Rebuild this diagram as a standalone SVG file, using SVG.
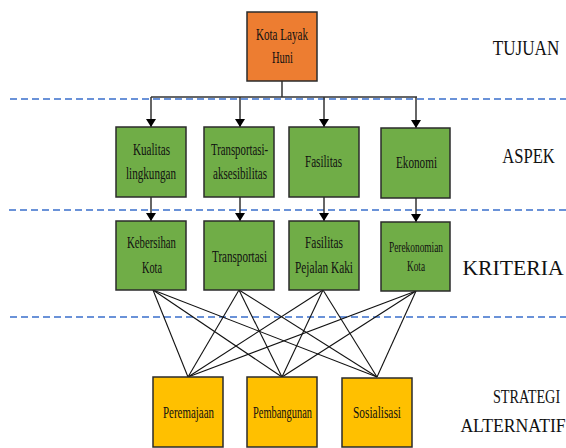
<svg xmlns="http://www.w3.org/2000/svg" width="566" height="448" viewBox="0 0 566 448">
<style>
.box{stroke:#2b2b2b;stroke-width:1.5}
.o{fill:#ED7D31}.g{fill:#70AD47}.y{fill:#FFC000}
text{font-family:'Liberation Serif','Times New Roman',Tinos,'DejaVu Serif',serif;fill:#111;text-anchor:middle}
.t{font-size:17px}
.s{font-size:15px}
.lv{font-size:22px}
.lv2{font-size:19px}
.dash{stroke:#6A92D8;stroke-width:2;stroke-dasharray:7,4;fill:none}
.arr{stroke:#333;stroke-width:1.5;fill:none;marker-end:url(#ah)}
.ln{stroke:#111;stroke-width:1.1;fill:none}
</style>
<defs>
<marker id="ah" markerWidth="8" markerHeight="10" refX="8" refY="5" orient="auto" markerUnits="userSpaceOnUse">
<path d="M0,0 L8,5 L0,10 z" fill="#000"/>
</marker>
</defs>
<rect width="566" height="448" fill="#fff"/>
<g id="dividers">
<line class="dash" x1="10" y1="99" x2="566" y2="99"/>
<line class="dash" x1="9" y1="210" x2="566" y2="210"/>
<line class="dash" x1="10" y1="317" x2="566" y2="317"/>
</g>
<g id="level-labels">
<text class="lv" transform="translate(526,55) scale(0.777,1)">TUJUAN</text>
<text class="lv" transform="translate(528.5,163) scale(0.755,1)">ASPEK</text>
<text class="lv" transform="translate(513,275) scale(0.985,1)">KRITERIA</text>
<text class="lv lv2" transform="translate(526.5,403) scale(0.75,1)">STRATEGI</text>
<text class="lv lv2" transform="translate(513,432) scale(0.93,1)">ALTERNATIF</text>
</g>
<g id="connectors">
<line x1="282" y1="81" x2="282" y2="97" style="stroke:#333;stroke-width:1.5"/>
<line x1="151" y1="97" x2="417" y2="97" style="stroke:#333;stroke-width:1.5"/>
<line class="arr" x1="151" y1="97" x2="151" y2="127"/>
<line class="arr" x1="240" y1="97" x2="240" y2="127"/>
<line class="arr" x1="324" y1="97" x2="324" y2="127"/>
<line class="arr" x1="416" y1="97" x2="416" y2="128"/>
<line class="arr" x1="151" y1="197" x2="151" y2="221"/>
<line class="arr" x1="240" y1="197" x2="240" y2="221"/>
<line class="arr" x1="324" y1="197" x2="324" y2="221"/>
<line class="arr" x1="416" y1="198" x2="416" y2="222"/>
<g class="ln">
<line x1="153" y1="290" x2="188" y2="377"/><line x1="153" y1="290" x2="282" y2="377"/><line x1="153" y1="290" x2="377" y2="377"/>
<line x1="239" y1="290" x2="188" y2="377"/><line x1="239" y1="290" x2="282" y2="377"/><line x1="239" y1="290" x2="377" y2="377"/>
<line x1="323" y1="290" x2="188" y2="377"/><line x1="323" y1="290" x2="282" y2="377"/><line x1="323" y1="290" x2="377" y2="377"/>
<line x1="416" y1="291" x2="188" y2="377"/><line x1="416" y1="291" x2="282" y2="377"/><line x1="416" y1="291" x2="377" y2="377"/>
</g>
</g>
<g id="kota-layak-huni">
<rect class="box o" x="247" y="12" width="70" height="69"/>
<text class="t" x="282" y="40" textLength="52" lengthAdjust="spacingAndGlyphs">Kota Layak</text>
<text class="t" x="282.5" y="63" textLength="21" lengthAdjust="spacingAndGlyphs">Huni</text>
</g>
<g id="kualitas-lingkungan">
<rect class="box g" x="116" y="127" width="70" height="70"/>
<text class="t" x="151.5" y="155" textLength="37" lengthAdjust="spacingAndGlyphs">Kualitas</text>
<text class="t" x="151" y="179" textLength="50" lengthAdjust="spacingAndGlyphs">lingkungan</text>
</g>
<g id="transportasi-aksesibilitas">
<rect class="box g" x="204" y="127" width="70" height="70"/>
<text class="t" x="239.5" y="155" textLength="57" lengthAdjust="spacingAndGlyphs">Transportasi-</text>
<text class="t" x="240" y="179" textLength="54" lengthAdjust="spacingAndGlyphs">aksesibilitas</text>
</g>
<g id="fasilitas">
<rect class="box g" x="289" y="127" width="70" height="70"/>
<text class="t" x="323.5" y="167" textLength="37" lengthAdjust="spacingAndGlyphs">Fasilitas</text>
</g>
<g id="ekonomi">
<rect class="box g" x="381" y="128" width="69" height="70"/>
<text class="t" x="416.5" y="168" textLength="41" lengthAdjust="spacingAndGlyphs">Ekonomi</text>
</g>
<g id="kebersihan-kota">
<rect class="box g" x="116" y="221" width="70" height="69"/>
<text class="t" x="151.5" y="248" textLength="49" lengthAdjust="spacingAndGlyphs">Kebersihan</text>
<text class="t" x="152" y="273" textLength="20" lengthAdjust="spacingAndGlyphs">Kota</text>
</g>
<g id="transportasi">
<rect class="box g" x="204" y="221" width="70" height="69"/>
<text class="t" x="239.5" y="262" textLength="55" lengthAdjust="spacingAndGlyphs">Transportasi</text>
</g>
<g id="fasilitas-pejalan-kaki">
<rect class="box g" x="289" y="221" width="70" height="69"/>
<text class="t" x="324" y="248" textLength="38" lengthAdjust="spacingAndGlyphs">Fasilitas</text>
<text class="t" x="324" y="273" textLength="58" lengthAdjust="spacingAndGlyphs">Pejalan Kaki</text>
</g>
<g id="perekonomian-kota">
<rect class="box g" x="381" y="222" width="69" height="69"/>
<text class="t s" x="416" y="252" textLength="54" lengthAdjust="spacingAndGlyphs">Perekonomian</text>
<text class="t s" x="416" y="271" textLength="18" lengthAdjust="spacingAndGlyphs">Kota</text>
</g>
<g id="peremajaan">
<rect class="box y" x="153" y="377" width="70" height="70"/>
<text class="t" x="188.5" y="418" textLength="51" lengthAdjust="spacingAndGlyphs">Peremajaan</text>
</g>
<g id="pembangunan">
<rect class="box y" x="247" y="377" width="70" height="70"/>
<text class="t" x="282.5" y="418" textLength="59" lengthAdjust="spacingAndGlyphs">Pembangunan</text>
</g>
<g id="sosialisasi">
<rect class="box y" x="342" y="378" width="70" height="69"/>
<text class="t" x="377" y="418" textLength="48" lengthAdjust="spacingAndGlyphs">Sosialisasi</text>
</g>
</svg>
